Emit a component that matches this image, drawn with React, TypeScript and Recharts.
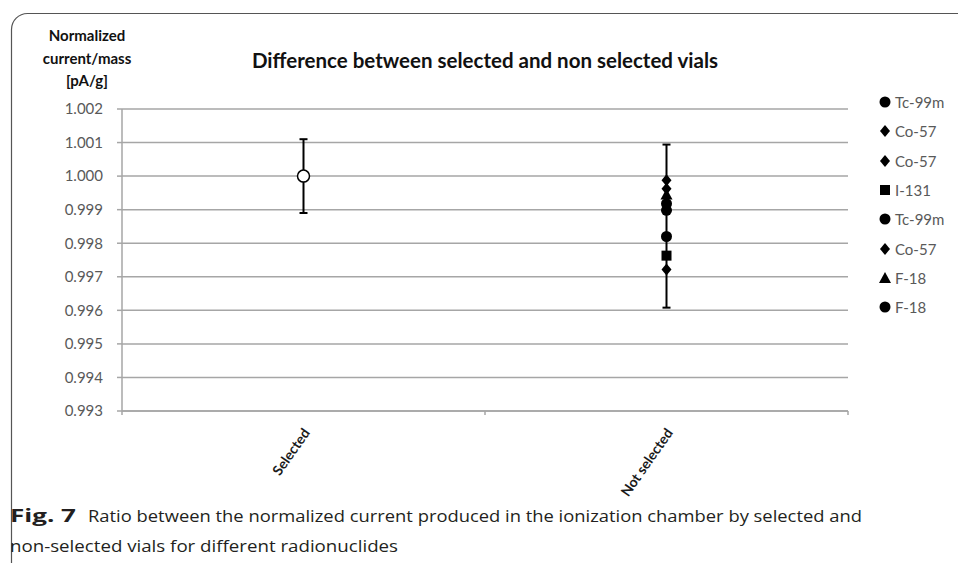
import {
  ScatterChart,
  Scatter,
  XAxis,
  YAxis,
  CartesianGrid,
  ErrorBar,
  Legend,
} from "recharts";

const CATEGORIES = ["Selected", "Not selected"];
const GROUP_MEANS = [1.0, 0.99851];
const GROUP_ERRORS = [0.0011, 0.00243];

const NUCLIDES = ["Tc-99m", "Co-57", "Co-57", "I-131", "Tc-99m", "Co-57", "F-18", "F-18"];
const SHAPES = ["circle", "diamond", "diamond", "square", "circle", "diamond", "triangle", "circle"];
const NUCLIDE_VALUES = [0.99898, 0.99988, 0.99962, 0.99763, 0.9982, 0.99722, 0.99945, 0.99918];

const Y_TICKS = [0.993, 0.994, 0.995, 0.996, 0.997, 0.998, 0.999, 1.0, 1.001, 1.002];
const X_TICKS = [0, 0.5, 1, 1.5, 2];

const FONT = "Lato, 'Open Sans', sans-serif";
const GRID = "#a6a6a6";

// one row per category, x sits in the middle of its slot
const groupRows = CATEGORIES.map((c, i) => ({
  x: i + 0.5,
  name: c,
  y: GROUP_MEANS[i],
  err: GROUP_ERRORS[i],
}));

const nuclideRows = NUCLIDE_VALUES.map((v) => ({ x: 1.5, y: v }));

function Marker({ kind, cx, cy, fill = "#000" }: { kind: string; cx: number; cy: number; fill?: string }) {
  if (kind === "diamond")
    return <path d={`M${cx},${cy - 6}L${cx + 5},${cy}L${cx},${cy + 6}L${cx - 5},${cy}Z`} fill={fill} />;
  if (kind === "square") return <rect x={cx - 5} y={cy - 5} width={10} height={10} fill={fill} />;
  if (kind === "triangle")
    return <path d={`M${cx},${cy - 6}L${cx + 6},${cy + 5}L${cx - 6},${cy + 5}Z`} fill={fill} />;
  return <circle cx={cx} cy={cy} r={5.5} fill={fill} />;
}

function XTick(props: any) {
  const { x, y, payload } = props;
  const v = payload.value;
  if (Number.isInteger(v)) {
    return <line x1={x} y1={y - 4} x2={x} y2={y} stroke={GRID} strokeWidth={1.5} />;
  }
  const label = CATEGORIES[Math.floor(v)];
  return (
    <text
      x={x + 3}
      y={y + 15}
      transform={`rotate(-55, ${x + 3}, ${y + 15})`}
      textAnchor="end"
      dy="0.35em"
      fontFamily={FONT}
      fontWeight={700}
      fontSize={14}
      fill="#1a1a1a"
    >
      {label}
    </text>
  );
}

function NuclideLegend({ payload }: any) {
  const items = (payload || []).filter((p: any) => p.type !== "none");
  return (
    <div style={{ paddingLeft: 31, fontFamily: FONT, fontSize: 15, color: "#595959", whiteSpace: "nowrap" }}>
      {items.map((p: any, i: number) => (
        <div key={i} style={{ height: 29.3, display: "flex", alignItems: "center" }}>
          <svg width={12} height={14} style={{ marginRight: 4 }}>
            <Marker kind={p.type} cx={6} cy={7} />
          </svg>
          <span>{p.value}</span>
        </div>
      ))}
    </div>
  );
}

export default function App() {
  return (
    <div style={{ position: "absolute", left: 0, top: 0, width: 958, height: 563, background: "#fff" }}>
      <ScatterChart width={958} height={563} margin={{ top: 109, right: 10, bottom: 52, left: 62 }}>
        <CartesianGrid vertical={false} stroke={GRID} strokeWidth={1.5} />
        <XAxis
          type="number"
          dataKey="x"
          domain={[0, 2]}
          ticks={X_TICKS}
          interval={0}
          height={100}
          tickSize={4}
          tickMargin={0}
          tickLine={false}
          tick={<XTick />}
          stroke={GRID}
          strokeWidth={1.5}
        />
        <YAxis
          type="number"
          domain={[0.993, 1.002]}
          ticks={Y_TICKS}
          interval={0}
          allowDataOverflow
          width={60}
          tickSize={5}
          tickMargin={14}
          tickFormatter={(v: number) => v.toFixed(3)}
          stroke={GRID}
          strokeWidth={1.5}
          tick={{ fill: "#595959", fontSize: 15, fontFamily: FONT }}
        />
        <Legend
          layout="vertical"
          align="right"
          verticalAlign="top"
          itemSorter={() => 0}
          wrapperStyle={{ width: 100, top: 87.5 }}
          content={<NuclideLegend />}
        />
        <Scatter
          data={[groupRows[1]]}
          dataKey="y"
          legendType="none"
          isAnimationActive={false}
          shape={() => <g />}
        >
          <ErrorBar dataKey="err" direction="y" width={4} stroke="#000" strokeWidth={2} />
        </Scatter>
        {NUCLIDES.map((n, i) => (
          <Scatter
            key={i}
            name={n}
            data={[nuclideRows[i]]}
            dataKey="y"
            legendType={SHAPES[i] as any}
            fill="#000"
            isAnimationActive={false}
            shape={(p: any) => <Marker kind={SHAPES[i]} cx={p.cx} cy={p.cy} />}
          />
        ))}
        <Scatter
          data={[groupRows[0]]}
          dataKey="y"
          legendType="none"
          isAnimationActive={false}
          shape={(p: any) => <circle cx={p.cx} cy={p.cy} r={6} fill="#fff" stroke="#000" strokeWidth={1.5} />}
        >
          <ErrorBar dataKey="err" direction="y" width={4} stroke="#000" strokeWidth={2} />
        </Scatter>
      </ScatterChart>

      <div
        style={{
          position: "absolute",
          left: 0,
          top: 47,
          width: 970,
          textAlign: "center",
          fontFamily: FONT,
          fontWeight: 700,
          fontSize: 20.5,
          lineHeight: "26px",
          color: "#111",
        }}
      >
        Difference between selected and non selected vials
      </div>
      <div
        style={{
          position: "absolute",
          left: 27,
          top: 24,
          width: 120,
          textAlign: "center",
          fontFamily: FONT,
          fontWeight: 700,
          fontSize: 15,
          lineHeight: "22.5px",
          color: "#111",
        }}
      >
        Normalized
        <br />
        current/mass
        <br />
        [pA/g]
      </div>

      <svg
        width={958}
        height={563}
        style={{ position: "absolute", left: 0, top: 0, pointerEvents: "none" }}
      >
        <rect x={11.5} y={13.5} width={1000} height={600} rx={16} fill="none" stroke="#555" strokeWidth={1.2} />
        <g fontFamily="'Open Sans', sans-serif" fontSize={17} fill="#231f20">
          <text x={10} y={522} fontWeight={700} textLength={66} lengthAdjust="spacingAndGlyphs">
            Fig. 7
          </text>
          <text x={88} y={522} textLength={774} lengthAdjust="spacingAndGlyphs">
            Ratio between the normalized current produced in the ionization chamber by selected and
          </text>
          <text x={10} y={552} textLength={388} lengthAdjust="spacingAndGlyphs">
            non-selected vials for different radionuclides
          </text>
        </g>
      </svg>
    </div>
  );
}
